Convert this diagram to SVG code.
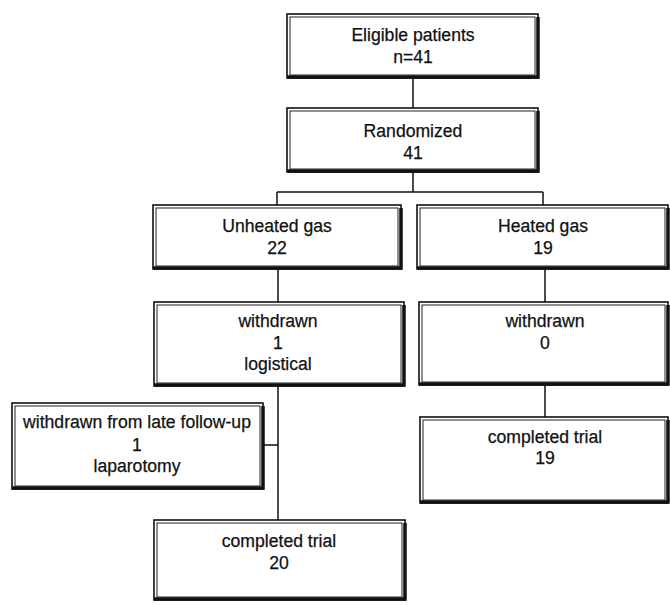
<svg xmlns="http://www.w3.org/2000/svg" width="670" height="605" viewBox="0 0 670 605">
<style>
.o{fill:#fff;stroke:#111;stroke-width:1.6}
.i{fill:none;stroke:#222;stroke-width:1}
.s{fill:none;stroke:#111;stroke-width:3.5}
.t{font-family:"Liberation Sans",Arial,sans-serif;font-size:17.6px;fill:#111;stroke:#111;stroke-width:0.25;text-anchor:middle}
.c{stroke:#111;stroke-width:1.5;fill:none}
</style>
<rect width="670" height="605" fill="#fff"/>
<g id="connectors">
<path class="c" d="M413 78V108M413 172V192M277 192H543M277 192V205M543 192V205M278 269V302M545 269V302M278 386V520M263 445H278M545 385V417"/>
</g>
<g id="eligible">
<rect class="o" x="287" y="14" width="251" height="64"/>
<rect class="i" x="290" y="17" width="245" height="58"/>
<path class="s" d="M287 77H538V17"/>
<text class="t" x="413" y="41">Eligible patients</text>
<text class="t" x="413" y="63">n=41</text>
</g>
<g id="randomized">
<rect class="o" x="287" y="108" width="251" height="64"/>
<rect class="i" x="290" y="111" width="245" height="58"/>
<path class="s" d="M287 171H538V111"/>
<text class="t" x="413" y="137">Randomized</text>
<text class="t" x="413" y="159">41</text>
</g>
<g id="unheated">
<rect class="o" x="153" y="205" width="248" height="64"/>
<rect class="i" x="156" y="208" width="242" height="58"/>
<path class="s" d="M153 268H401V208"/>
<text class="t" x="277" y="232">Unheated gas</text>
<text class="t" x="277" y="254">22</text>
</g>
<g id="heated">
<rect class="o" x="417" y="205" width="251" height="64"/>
<rect class="i" x="420" y="208" width="245" height="58"/>
<path class="s" d="M417 268H668V208"/>
<text class="t" x="543" y="232">Heated gas</text>
<text class="t" x="543" y="254">19</text>
</g>
<g id="withdrawn-left">
<rect class="o" x="154" y="302" width="250" height="84"/>
<rect class="i" x="157" y="305" width="244" height="78"/>
<path class="s" d="M154 385H404V305"/>
<text class="t" x="278" y="327">withdrawn</text>
<text class="t" x="278" y="349">1</text>
<text class="t" x="278" y="370">logistical</text>
</g>
<g id="withdrawn-right">
<rect class="o" x="419" y="302" width="249" height="83"/>
<rect class="i" x="422" y="305" width="243" height="77"/>
<path class="s" d="M419 384H668V305"/>
<text class="t" x="545" y="327">withdrawn</text>
<text class="t" x="545" y="349">0</text>
</g>
<g id="late-followup">
<rect class="o" x="12" y="403" width="251" height="86"/>
<rect class="i" x="15" y="406" width="245" height="80"/>
<path class="s" d="M12 488H263V406"/>
<text class="t" x="137" y="428">withdrawn from late follow-up</text>
<text class="t" x="137" y="451">1</text>
<text class="t" x="137" y="472">laparotomy</text>
</g>
<g id="completed-left">
<rect class="o" x="154" y="520" width="251" height="80"/>
<rect class="i" x="157" y="523" width="245" height="74"/>
<path class="s" d="M154 599H405V523"/>
<text class="t" x="279" y="547">completed trial</text>
<text class="t" x="279" y="569">20</text>
</g>
<g id="completed-right">
<rect class="o" x="420" y="417" width="248" height="86"/>
<rect class="i" x="423" y="420" width="242" height="80"/>
<path class="s" d="M420 502H668V420"/>
<text class="t" x="545" y="443">completed trial</text>
<text class="t" x="545" y="464">19</text>
</g>
</svg>
